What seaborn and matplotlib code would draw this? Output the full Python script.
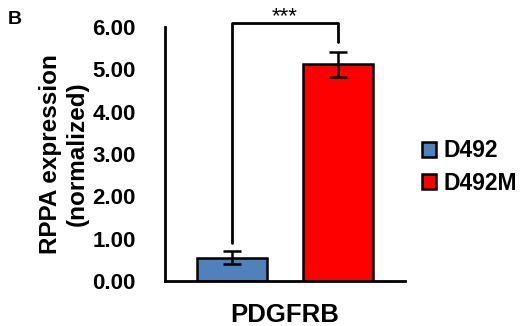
import matplotlib
matplotlib.use("Agg")
import matplotlib.pyplot as plt
import seaborn as sns
import pandas as pd
from matplotlib.patches import Patch

genes = ["PDGFRB"]
lines = ["D492", "D492M"]
values = [0.55, 5.12]
errors = [0.15, 0.30]
colors = ["#4f81bd", "#ff0000"]
yticks = [0, 1, 2, 3, 4, 5, 6]

sns.set_theme(style="white")
plt.rcParams["font.family"] = ["Liberation Sans", "DejaVu Sans"]
plt.rcParams["font.weight"] = "bold"
for k in ["text.color", "axes.labelcolor", "xtick.color", "ytick.color"]:
    plt.rcParams[k] = "black"

df = pd.DataFrame({"gene": genes * len(lines), "line": lines, "value": values})

fig = plt.figure(figsize=(5.26, 3.26), dpi=100)
ax = fig.add_axes([165 / 526, 1 - 281 / 326, 240 / 526, 254 / 326])

sns.barplot(data=df, x="gene", y="value", hue="line", palette=colors,
            saturation=1, width=0.88, gap=0.34, edgecolor="black",
            linewidth=1.8, errorbar=None, legend=False, ax=ax)

bars = [p for p in ax.patches]
bars.sort(key=lambda p: p.get_x())
for p, v, e in zip(bars, values, errors):
    cx = p.get_x() + p.get_width() / 2
    ax.errorbar(cx, v, yerr=e, fmt="none", ecolor="black", elinewidth=1.8,
                capsize=6.5, capthick=1.8, zorder=5)

ax.set_xlim(-0.5, 0.5)
ax.set_ylim(0, 6)
ax.set_yticks(yticks)
ax.set_yticklabels([f"{t:.2f}" for t in yticks], fontsize=16, fontweight="bold")
ax.tick_params(axis="y", length=0, pad=21)
ax.tick_params(axis="x", length=0, pad=16, labelsize=18.5)
for lbl in ax.get_xticklabels():
    lbl.set_fontweight("bold")
ax.set_xlabel("")
ax.set_ylabel("RPPA expression\n(normalized)", fontsize=17.5, fontweight="bold",
              labelpad=3, linespacing=1.2)

for s in ["top", "right"]:
    ax.spines[s].set_visible(False)
for s in ["left", "bottom"]:
    ax.spines[s].set_color("black")
    ax.spines[s].set_linewidth(2)

c0 = bars[0].get_x() + bars[0].get_width() / 2
c1 = bars[1].get_x() + bars[1].get_width() / 2
ytop = 6.1
ax.plot([c0, c0, c1, c1], [0.9, ytop, ytop, 5.65], color="black", lw=2,
        clip_on=False)
ax.text((c0 + c1) / 2, ytop - 0.1, "***", ha="center", va="bottom",
        fontsize=16, fontweight="normal", clip_on=False)

handles = [Patch(facecolor=c, edgecolor="black", linewidth=1.8) for c in colors]
fig.legend(handles, lines, loc="center left", bbox_to_anchor=(413 / 526, 1 - 167 / 326),
           frameon=False, prop={"size": 16.5, "weight": "bold"},
           handlelength=0.6, handleheight=0.6, handletextpad=0.35,
           labelspacing=0.4, borderaxespad=0)

fig.text(8 / 526, 1 - 20 / 326, "B", fontsize=14, fontweight="bold",
         va="center", ha="left")

fig.savefig("out.png", dpi=100)
